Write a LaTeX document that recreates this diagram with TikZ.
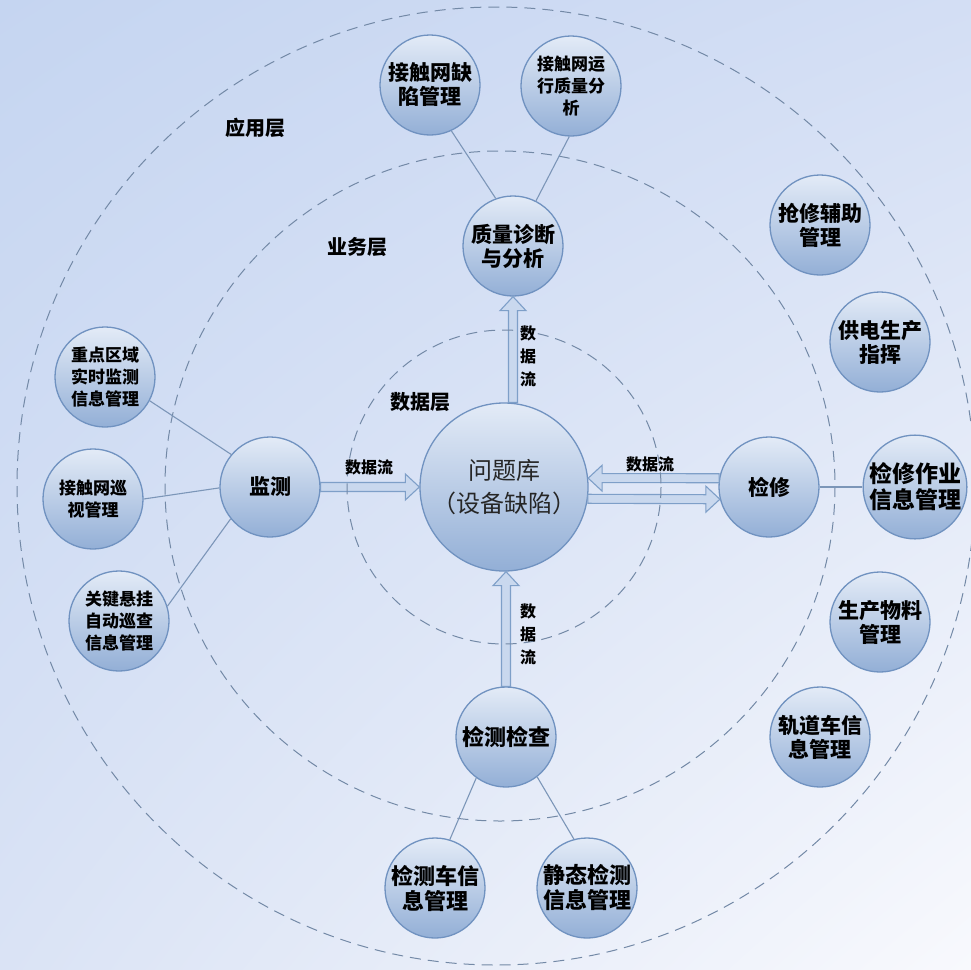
\documentclass[tikz,border=0pt]{standalone}
\usepackage{fontspec}
\setmainfont{Noto Sans CJK SC}
\usetikzlibrary{calc,shadings}

\definecolor{bgtl}{HTML}{C5D5F1}
\definecolor{bgtr}{HTML}{D3DEF4}
\definecolor{bgbl}{HTML}{DAE3F5}
\definecolor{bgbr}{HTML}{F8F9FD}
\definecolor{bubbletop}{HTML}{E3EBF7}
\definecolor{bubblebot}{HTML}{93AFD6}
\definecolor{bubbleline}{HTML}{7092C0}
\definecolor{hubtext}{HTML}{262626}
\definecolor{arrowfill}{HTML}{C9D8EE}
\definecolor{arrowline}{HTML}{7E9FC8}
\definecolor{ringline}{HTML}{7389A6}
\definecolor{linkline}{HTML}{7C96B8}

\tikzset{
  bubble/.style={circle, draw=bubbleline, line width=1.3pt, top color=bubbletop,
    bottom color=bubblebot, minimum size=100pt, inner sep=0pt, align=center,
    font=\bfseries\fontsize{21}{24}\selectfont},
  smalltext/.style={font=\bfseries\fontsize{17}{22}\selectfont},
  hub/.style={bubble, minimum size=168pt, text=hubtext,
    font=\fontsize{24}{33}\selectfont},
  layer/.style={font=\bfseries\fontsize{20}{24}\selectfont},
  flowtext/.style={font=\bfseries\fontsize{16}{23}\selectfont, align=center},
  ring/.style={draw=ringline, line width=1pt, dash pattern=on 11pt off 7pt},
  link/.style={draw=linkline, line width=1.1pt},
  flowarrow/.style={fill=arrowfill, draw=arrowline, line width=1.1pt, line join=miter}
}

% hollow block arrow from #1 to #2
\newcommand\dataflow[2]{%
  \coordinate (hd) at ($(#2)!14pt!(#1)$);
  \draw[flowarrow] ($(#1)!4.5pt!90:(#2)$) -- ($(hd)!4.5pt!90:(#2)$)
    -- ($(hd)!13pt!90:(#2)$) -- (#2) -- ($(hd)!13pt!-90:(#2)$)
    -- ($(hd)!4.5pt!-90:(#2)$) -- ($(#1)!4.5pt!-90:(#2)$) -- cycle;
}

\begin{document}
\begin{tikzpicture}[x=1pt, y=-1pt]
	\useasboundingbox (0,0) rectangle (971,969);
	\shade[upper left=bgtl, upper right=bgtr, lower left=bgbl, lower right=bgbr]
		(0,0) rectangle (971,969);

	% data layer
	\node[hub] (wtk) at (504,487) {问题库\\（设备缺陷）};

	% business layer
	\node[bubble] (zl) at (513,246) {质量诊断\\与分析};
	\node[bubble] (jc) at (270,487) {监测};
	\node[bubble] (jx) at (769,487) {检修};
	\node[bubble, font=\bfseries\fontsize{22}{25}\selectfont] (jcjc) at (506,737) {检测检查};

	% application layer
	\node[bubble] (qxgl) at (430,85) {接触网缺\\陷管理};
	\node[bubble, smalltext] (yxfx) at (571,86) {接触网运\\行质量分\\析};
	\node[bubble, smalltext] (zdqy) at (105,377) {重点区域\\实时监测\\信息管理};
	\node[bubble, smalltext] (xsgl) at (93,499) {接触网巡\\视管理};
	\node[bubble, smalltext] (gjxg) at (119,621) {关键悬挂\\自动巡查\\信息管理};
	\node[bubble] (qxfz) at (820,225) {抢修辅助\\管理};
	\node[bubble] (gdzh) at (880,342) {供电生产\\指挥};
	\node[bubble, font=\bfseries\fontsize{23}{26}\selectfont] (jxzy) at (915,487) {检修作业\\信息管理};
	\node[bubble] (scwl) at (880,622) {生产物料\\管理};
	\node[bubble] (gdc) at (820,737) {轨道车信\\息管理};
	\node[bubble, font=\bfseries\fontsize{22}{25}\selectfont] (jcc) at (435,888) {检测车信\\息管理};
	\node[bubble, font=\bfseries\fontsize{22}{25}\selectfont] (jtjc) at (587,888) {静态检测\\信息管理};

	% data flows
	\dataflow{jc.east}{wtk.west}
	\dataflow{zl.south |- wtk.north}{zl.south}
	\dataflow{jcjc.north}{jcjc.north |- wtk.south}
	\dataflow{jx.170}{wtk.6}
	\dataflow{wtk.-8}{jx.194}

	% layer rings
	\draw[ring] (504,487) circle[radius=157];
	\draw[ring] (500,486) circle[radius=335];
	\draw[ring] (496,486) circle[radius=479];

	\draw[link] (qxgl.-65) -- (zl.110);
	\draw[link] (yxfx.-92) -- (zl.63);
	\draw[link] (zdqy.-28) -- (jc.140);
	\draw[link] (xsgl.east) -- (jc.181);
	\draw[link] (gjxg.17) -- (jc.219);
	\draw[link] (jcjc.234) -- (jcc.73);
	\draw[link] (jcjc.-52) -- (jtjc.105);
	\draw[link] (jx.east) -- (jxzy.west);

	\node[layer] (yyc) at (255,128) {应用层};
	\node[layer] (ywc) at (357,247) {业务层};
	\node[layer] (sjc) at (420,402) {数据层};
	\node[flowtext] (sjl1) at (369,467) {数据流};
	\node[flowtext] (sjl2) at (650,464) {数据流};
	\node[flowtext] (sjl3) at (528,356) {数\\据\\流};
	\node[flowtext] (sjl4) at (528,634) {数\\据\\流};
\end{tikzpicture}
\end{document}
